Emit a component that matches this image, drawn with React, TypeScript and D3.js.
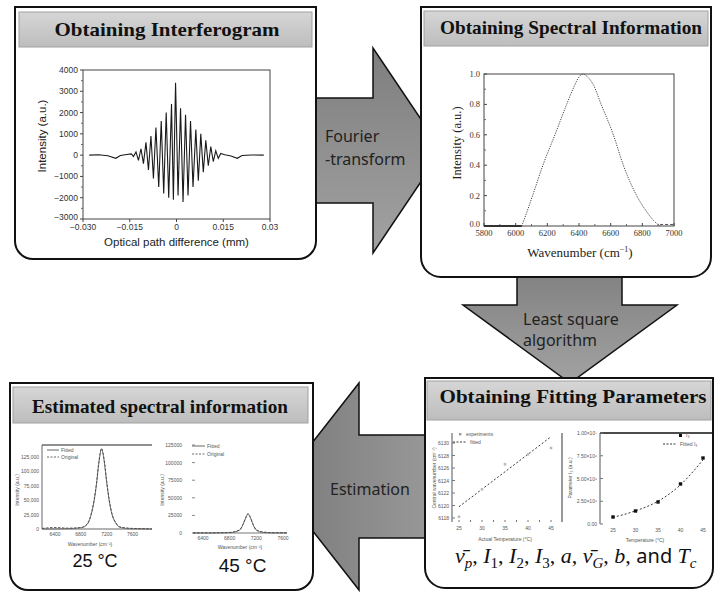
import React from 'react';
import * as d3 from 'd3';

const SANS = "'Liberation Sans', Arial, sans-serif";
const SERIF = "'Liberation Serif', 'Times New Roman', serif";
const UI = "'Noto Sans', 'Open Sans', sans-serif";

// ---------- Interferogram (panel 1) ----------
const interferoX = [-0.028, -0.025, -0.022, -0.0195, -0.018, -0.016, -0.0145, -0.0138, -0.013, -0.0122, -0.0114, -0.0106, -0.0098, -0.009, -0.0082, -0.0074, -0.0066, -0.0057, -0.0049, -0.0041, -0.0033, -0.0025, -0.0016, -0.001, -0.0003, 0.0005, 0.0013, 0.0021, 0.0029, 0.0037, 0.0045, 0.0053, 0.0062, 0.007, 0.0078, 0.0086, 0.0094, 0.0102, 0.011, 0.0118, 0.0126, 0.0134, 0.0142, 0.0155, 0.0175, 0.0195, 0.021, 0.024, 0.028];
const interferoY = [0, 20, -30, -150, -20, 30, 60, -60, 150, -250, 300, -400, 600, -700, 900, -1100, 1300, -1500, 1600, -1800, 2000, -2000, 2400, -2100, 3400, -1900, 2200, -2200, 1900, -1900, 1600, -1500, 1200, -1200, 1000, -800, 700, -500, 400, -300, 200, -150, 80, 20, -40, -150, -20, 10, 0];
const interferoTicksX = [-0.03, -0.015, 0, 0.015, 0.03];
const interferoTickLabelsX = ['\u22120.030', '\u22120.015', '0', '0.015', '0.03'];
const interferoTicksY = [4000, 3000, 2000, 1000, 0, -1000, -2000, -3000];

// ---------- Spectrum (panel 2) ----------
const specX = [6038, 6070, 6107, 6172, 6248, 6322, 6370, 6400, 6425, 6450, 6490, 6540, 6617, 6680, 6764, 6830, 6872, 6912];
const specY = [0, 0.09, 0.2, 0.4, 0.6, 0.8, 0.92, 0.98, 1.0, 0.985, 0.93, 0.8, 0.6, 0.4, 0.2, 0.09, 0.035, 0];
const specBaseX = [5800, 6038];
const specTailX = [6912, 7000];
const specTicksX = [5800, 6000, 6200, 6400, 6600, 6800, 7000];
const specTicksY = [0, 0.2, 0.4, 0.6, 0.8, 1.0];

// ---------- Estimated spectra (panel 3) ----------
const est25X = [6200, 6400, 6600, 6800, 6900, 6960, 7000, 7040, 7080, 7120, 7160, 7200, 7240, 7280, 7340, 7400, 7500, 7600, 7800, 7900];
const est25Fit = [0, 0, 500, 2000, 8000, 25000, 45000, 75000, 115000, 138000, 118000, 80000, 48000, 26000, 10000, 3000, 800, 200, 0, 0];
const est25Orig = [1000, 2500, 1500, 2500, 9000, 26000, 47000, 77000, 117000, 139000, 120000, 82000, 50000, 27000, 11000, 4000, 2000, 1000, 500, 0];
const est25TicksY = [0, 25000, 50000, 75000, 100000, 125000];
const est25TickLabelsY = ['0', '25,000', '50,000', '75,000', '100,000', '125,000'];
const est45X = [6250, 6500, 6800, 6950, 7000, 7040, 7075, 7110, 7150, 7200, 7300, 7450, 7660];
const est45Fit = [0, 0, 500, 4000, 12000, 21000, 27000, 22000, 12000, 4000, 800, 0, 0];
const est45Orig = [300, 200, 800, 4500, 12500, 21500, 27500, 22500, 12500, 4500, 1500, 500, 300];
const est45TicksY = [0, 25000, 50000, 75000, 100000, 125000];
const estTicksX = [6400, 6800, 7200, 7600];

// ---------- Fitting parameters (panel 4) ----------
const tempX = [25, 30, 35, 40, 45];
const peakWn = [6118.2, 6122.6, 6126.6, 6128.2, 6129.2];
const peakFitX = [25, 45];
const peakFitY = [6119.8, 6131];
const peakTicksY = [6118, 6120, 6122, 6124, 6126, 6128, 6130];
const i3Values = [7.7e5, 1.43e6, 2.42e6, 4.4e6, 7.25e6];
const i3FitX = [25, 27.5, 30, 32.5, 35, 37.5, 40, 42.5, 45];
const i3FitY = [0.75e6, 1.05e6, 1.45e6, 1.9e6, 2.5e6, 3.3e6, 4.3e6, 5.6e6, 7.05e6];
const i3TicksY = [0, 2.5e6, 5e6, 7.5e6, 1e7];
const i3TickLabelsY = ['0.00', '2.50\u00d710\u2076', '5.00\u00d710\u2076', '7.50\u00d710\u2076', '1.00\u00d710\u2077'];

function panelPath(x0: number, y0: number, x1: number, y1: number, r: number) {
  return `M${x0},${y0}H${x1}V${y1 - r}A${r},${r} 0 0 1 ${x1 - r},${y1}H${x0 + r}A${r},${r} 0 0 1 ${x0},${y1 - r}Z`;
}

function Panel({ x0, y0, x1, y1, r, bar, title, tx, ty, tl }: any) {
  return (
    <g>
      <path d={panelPath(x0, y0, x1, y1, r)} fill="#fff" stroke="#111" strokeWidth={2} />
      <rect x={bar[0]} y={bar[1]} width={bar[2] - bar[0]} height={bar[3] - bar[1]} fill="url(#barGrad)" stroke="#a0a0a0" strokeWidth={1} />
      <text x={tx} y={ty} textAnchor="middle" fontFamily={SERIF} fontWeight="bold" fontSize={19} fill="#111" textLength={tl} lengthAdjust="spacingAndGlyphs">{title}</text>
    </g>
  );
}

function Interferogram() {
  const x = d3.scaleLinear().domain([-0.03, 0.03]).range([83, 270]);
  const y = d3.scaleLinear().domain([-3000, 4000]).range([219, 70]);
  const line = d3.line<number>().x((_, i) => x(interferoX[i])).y((d) => y(d));
  const minor = d3.range(-3000, 4000, 500).filter((v) => v % 1000 !== 0);
  return (
    <g>
      <rect x={83} y={70} width={187} height={149} fill="none" stroke="#444" strokeWidth={1} />
      {interferoTicksY.map((t) => (
        <g key={t}>
          <line x1={83} x2={80} y1={y(t)} y2={y(t)} stroke="#444" />
          <text x={78} y={y(t) + (t === -3000 ? 1 : 3)} textAnchor="end" fontFamily={SANS} fontSize={8.5} fill="#333">{t < 0 ? '\u2212' + Math.abs(t) : t}</text>
        </g>
      ))}
      {minor.map((t) => <line key={t} x1={83} x2={81} y1={y(t)} y2={y(t)} stroke="#666" />)}
      {interferoTicksX.map((t, i) => (
        <g key={t}>
          <line x1={x(t)} x2={x(t)} y1={219} y2={222} stroke="#444" />
          <text x={x(t)} y={230} textAnchor="middle" fontFamily={SANS} fontSize={8.5} fill="#333">{interferoTickLabelsX[i]}</text>
        </g>
      ))}
      <path d={line(interferoY) || ''} fill="none" stroke="#1a1a1a" strokeWidth={1.1} />
      <text transform="translate(46,136) rotate(-90)" textAnchor="middle" fontFamily={SANS} fontSize={11.5} fill="#222">Intensity (a.u.)</text>
      <text x={176.5} y={246} textAnchor="middle" fontFamily={SANS} fontSize={11.5} fill="#222">Optical path difference (mm)</text>
    </g>
  );
}

function Spectrum() {
  const x = d3.scaleLinear().domain([5800, 7000]).range([484, 674]);
  const y = d3.scaleLinear().domain([0, 1]).range([226, 74]);
  const line = d3.line<number>().x((_, i) => x(specX[i])).y((d) => y(d)).curve(d3.curveMonotoneX);
  const minorY = d3.range(0.1, 1, 0.2);
  const minorX = d3.range(5900, 7000, 200);
  return (
    <g>
      <rect x={484} y={74} width={190} height={152} fill="none" stroke="#444" strokeWidth={1} />
      {specTicksY.map((t) => (
        <g key={t}>
          <line x1={484} x2={487} y1={y(t)} y2={y(t)} stroke="#444" />
          <text x={480} y={y(t) + (t === 0 ? 1 : 3)} textAnchor="end" fontFamily={SERIF} fontSize={8.5} fill="#333">{t.toFixed(1)}</text>
        </g>
      ))}
      {minorY.map((t) => <line key={t} x1={484} x2={486} y1={y(t)} y2={y(t)} stroke="#666" />)}
      {specTicksX.map((t) => (
        <g key={t}>
          <line x1={x(t)} x2={x(t)} y1={226} y2={223} stroke="#444" />
          <text x={x(t)} y={236} textAnchor="middle" fontFamily={SERIF} fontSize={8.5} fill="#333">{t}</text>
        </g>
      ))}
      {minorX.map((t) => <line key={t} x1={x(t)} x2={x(t)} y1={226} y2={224} stroke="#666" />)}
      <line x1={x(specBaseX[0])} x2={x(specBaseX[1])} y1={y(0)} y2={y(0)} stroke="#333" strokeWidth={1.8} />
      <line x1={x(specTailX[0])} x2={x(specTailX[1])} y1={y(0.01)} y2={y(0.01)} stroke="#555" strokeWidth={1} strokeDasharray="3 2" />
      <path d={line(specY) || ''} fill="none" stroke="#444" strokeWidth={1} strokeDasharray="1.2 1.2" />
      <text transform="translate(461,143) rotate(-90)" textAnchor="middle" fontFamily={SERIF} fontSize={12.5} fill="#222">Intensity (a.u.)</text>
      <text x={580} y={257} textAnchor="middle" fontFamily={SERIF} fontSize={13} fill="#222">Wavenumber (cm<tspan dy={-5} fontSize={8}>−1</tspan><tspan dy={5}>)</tspan></text>
    </g>
  );
}

function Est25() {
  const x = d3.scaleLinear().domain([6200, 7900]).range([42, 152]);
  const y = d3.scaleLinear().domain([0, 145000]).range([529, 445]);
  const lf = d3.line<number>().x((_, i) => x(est25X[i])).y((d) => y(d)).curve(d3.curveMonotoneX);
  return (
    <g fontFamily={SANS} fill="#555">
      <line x1={42} x2={42} y1={445} y2={529} stroke="#666" />
      <line x1={42} x2={152} y1={529} y2={529} stroke="#666" />
      <line x1={42} x2={152} y1={445} y2={445} stroke="#222" strokeWidth={1.2} />
      {est25TicksY.map((t, i) => (
        <text key={t} x={39} y={y(t) + 2} textAnchor="end" fontSize={5}>{est25TickLabelsY[i]}</text>
      ))}
      {estTicksX.map((t) => (
        <text key={t} x={x(t)} y={536} textAnchor="middle" fontSize={5}>{t}</text>
      ))}
      <path d={lf(est25Fit) || ''} fill="none" stroke="#777" strokeWidth={1} />
      <path d={lf(est25Orig) || ''} fill="none" stroke="#444" strokeWidth={0.9} strokeDasharray="2.5 1.5" />
      <line x1={47} x2={59} y1={450} y2={450} stroke="#666" />
      <text x={61} y={452} fontSize={5}>Fitted</text>
      <line x1={47} x2={59} y1={457} y2={457} stroke="#666" strokeDasharray="2 1.5" />
      <text x={61} y={459} fontSize={5}>Original</text>
      <text transform="translate(19,490) rotate(-90)" textAnchor="middle" fontSize={5}>Intensity (a.u.)</text>
      <text x={90} y={546} textAnchor="middle" fontSize={5}>Wavenumber (cm⁻¹)</text>
      <text x={95} y={567} textAnchor="middle" fontSize={18} fill="#111">25 °C</text>
    </g>
  );
}

function Est45() {
  const x = d3.scaleLinear().domain([6250, 7660]).range([193, 287]);
  const y = d3.scaleLinear().domain([0, 125000]).range([533, 445]);
  const lf = d3.line<number>().x((_, i) => x(est45X[i])).y((d) => y(d)).curve(d3.curveMonotoneX);
  return (
    <g fontFamily={SANS} fill="#555">
      <line x1={193} x2={287} y1={533} y2={533} stroke="#777" />
      {est45TicksY.map((t) => (
        <g key={t}>
          <line x1={192} x2={195} y1={y(t)} y2={y(t)} stroke="#888" />
          <text x={182} y={y(t) + 2} textAnchor="end" fontSize={5}>{t}</text>
        </g>
      ))}
      {estTicksX.map((t) => (
        <text key={t} x={x(t)} y={540} textAnchor="middle" fontSize={5}>{t}</text>
      ))}
      <path d={lf(est45Fit) || ''} fill="none" stroke="#777" strokeWidth={1} />
      <path d={lf(est45Orig) || ''} fill="none" stroke="#444" strokeWidth={0.9} strokeDasharray="2.5 1.5" />
      <line x1={192} x2={205} y1={446} y2={446} stroke="#666" />
      <text x={207} y={448} fontSize={5}>Fitted</text>
      <line x1={192} x2={205} y1={454} y2={454} stroke="#666" strokeDasharray="2 1.5" />
      <text x={207} y={456} fontSize={5}>Original</text>
      <text transform="translate(164,490) rotate(-90)" textAnchor="middle" fontSize={5}>Intensity (a.u.)</text>
      <text x={240} y={549} textAnchor="middle" fontSize={5}>Wavenumber (cm⁻¹)</text>
      <text x={242.5} y={572} textAnchor="middle" fontSize={19} fill="#111">45 °C</text>
    </g>
  );
}

function PeakChart() {
  const x = d3.scaleLinear().domain([25, 45]).range([459, 551]);
  const y = d3.scaleLinear().domain([6118, 6130]).range([518, 443]);
  const minorX = d3.range(25, 45.1, 2.5);
  return (
    <g fontFamily={SANS} fill="#555">
      <line x1={452} x2={452} y1={433} y2={522} stroke="#555" />
      {peakTicksY.map((t) => (
        <g key={t}>
          <line x1={452} x2={455} y1={y(t)} y2={y(t)} stroke="#777" />
          <text x={449} y={y(t) + 2} textAnchor="end" fontSize={5}>{t}</text>
        </g>
      ))}
      {minorX.map((t) => <line key={t} x1={x(t)} x2={x(t)} y1={520} y2={522} stroke="#777" />)}
      {tempX.map((t) => <text key={t} x={x(t)} y={530} textAnchor="middle" fontSize={5}>{t}</text>)}
      <line x1={x(peakFitX[0])} x2={x(peakFitX[1])} y1={y(peakFitY[0])} y2={y(peakFitY[1])} stroke="#222" strokeWidth={0.9} strokeDasharray="2 2" />
      {tempX.map((t, i) => <rect key={t} x={x(t) - 1.3} y={y(peakWn[i]) - 1.3} width={2.6} height={2.6} fill="#bbb" />)}
      <rect x={459} y={433} width={2.4} height={2.4} fill="#999" />
      <text x={466} y={436} fontSize={5}>experiments</text>
      <line x1={453} x2={467} y1={442} y2={442} stroke="#222" strokeWidth={0.9} strokeDasharray="2 1.5" />
      <text x={470} y={444} fontSize={5}>fitted</text>
      <text transform="translate(436,478) rotate(-90)" textAnchor="middle" fontSize={5}>Central wavenumber (cm⁻¹)</text>
      <text x={505} y={541} textAnchor="middle" fontSize={5}>Actual Temperature (°C)</text>
      <line x1={562} x2={562} y1={433} y2={522} stroke="#777" strokeWidth={1.5} />
    </g>
  );
}

function I3Chart() {
  const x = d3.scaleLinear().domain([25, 45]).range([613, 703]);
  const y = d3.scaleLinear().domain([0, 1e7]).range([524, 433]);
  const lf = d3.line<number>().x((_, i) => x(i3FitX[i])).y((d) => y(d)).curve(d3.curveMonotoneX);
  return (
    <g fontFamily={SANS} fill="#555">
      <line x1={600} x2={600} y1={433} y2={524} stroke="#555" />
      <line x1={600} x2={712} y1={433} y2={433} stroke="#111" strokeWidth={1.5} />
      {i3TicksY.map((t, i) => (
        <g key={t}>
          <line x1={600} x2={603} y1={y(t)} y2={y(t)} stroke="#777" />
          <text x={597} y={y(t) + 2} textAnchor="end" fontSize={5}>{i3TickLabelsY[i]}</text>
        </g>
      ))}
      {tempX.map((t) => <text key={t} x={x(t)} y={532} textAnchor="middle" fontSize={5}>{t}</text>)}
      <path d={lf(i3FitY) || ''} fill="none" stroke="#222" strokeWidth={0.9} strokeDasharray="2 2" />
      {tempX.map((t, i) => <rect key={t} x={x(t) - 1.7} y={y(i3Values[i]) - 1.7} width={3.4} height={3.4} fill="#111" />)}
      <rect x={679} y={434} width={3} height={3} fill="#111" />
      <text x={686} y={437} fontSize={5}>I₃</text>
      <line x1={663} x2={677} y1={444} y2={444} stroke="#222" strokeWidth={0.9} strokeDasharray="2 1.5" />
      <text x={680} y={446} fontSize={5}>Fitted I₃</text>
      <text transform="translate(572,478) rotate(-90)" textAnchor="middle" fontSize={5}>Parameter I₃ (a.u.)</text>
      <text x={645} y={542} textAnchor="middle" fontSize={5}>Temperature (°C)</text>
    </g>
  );
}

export default function App() {
  const arrowR = [[300, 98], [373, 98], [373, 48], [442, 150.5], [373, 253], [373, 203], [300, 203]];
  const arrowD = [[517, 260], [622, 260], [622, 305], [677, 305], [570, 383], [463, 305], [517, 305]];
  const arrowL = [[440, 435], [359, 435], [359, 383], [278, 486.5], [359, 590], [359, 538], [440, 538]];
  const pts = (a: number[][]) => a.map((p) => p.join(',')).join(' ');
  return (
    <svg width={716} height={594} style={{ position: 'absolute', left: 0, top: 0, background: '#fff' }}>
      <defs>
        <linearGradient id="arrowGrad" x1="0" y1="0" x2="0" y2="1">
          <stop offset="0" stopColor="#7e7e7e" />
          <stop offset="1" stopColor="#a2a2a2" />
        </linearGradient>
        <linearGradient id="arrowGradH" x1="0" y1="0" x2="1" y2="0">
          <stop offset="0" stopColor="#7a7a7a" />
          <stop offset="1" stopColor="#9a9a9a" />
        </linearGradient>
        <linearGradient id="barGrad" x1="0" y1="0" x2="0" y2="1">
          <stop offset="0" stopColor="#d6d6d6" />
          <stop offset="1" stopColor="#bdbdbd" />
        </linearGradient>
      </defs>
      <rect width={716} height={594} fill="#fff" />
      <polygon points={pts(arrowR)} fill="url(#arrowGrad)" stroke="#111" strokeWidth={1.5} />
      <polygon points={pts(arrowD)} fill="url(#arrowGrad)" stroke="#111" strokeWidth={1.5} />
      <polygon points={pts(arrowL)} fill="url(#arrowGradH)" stroke="#111" strokeWidth={1.5} />
      <text fontFamily={UI} fontSize={16} fill="#222">
        <tspan x={325} y={142}>Fourier</tspan>
        <tspan x={325} y={165}>-transform</tspan>
      </text>
      <text fontFamily={UI} fontSize={16} fill="#222">
        <tspan x={523} y={325}>Least square</tspan>
        <tspan x={523} y={346}>algorithm</tspan>
      </text>
      <text x={330} y={495} fontFamily={UI} fontSize={16} fill="#222">Estimation</text>

      <Panel x0={15} y0={7} x1={316} y1={259} r={18} bar={[19, 12, 312, 47]} title="Obtaining Interferogram" tx={167} ty={36} tl={225} />
      <Panel x0={421} y0={7} x1={711} y1={277} r={20} bar={[424, 11, 708, 46]} title="Obtaining Spectral Information" tx={571} ty={34} tl={262} />
      <Panel x0={10} y0={383} x1={313} y1={590} r={18} bar={[13, 387, 308, 423]} title="Estimated spectral information" tx={160} ty={413} tl={256} />
      <Panel x0={425} y0={378} x1={713} y1={588} r={20} bar={[427, 381, 711, 420]} title="Obtaining Fitting Parameters" tx={573} ty={403} tl={267} />

      <Interferogram />
      <Spectrum />
      <Est25 />
      <Est45 />
      <PeakChart />
      <I3Chart />

      <text x={455} y={563} fontFamily={SERIF} fontSize={22} fill="#111">
        <tspan fontStyle="italic">ν̄</tspan><tspan fontStyle="italic" fontSize={15} dy={5}>p</tspan>
        <tspan dy={-5}>, </tspan><tspan fontStyle="italic">I</tspan><tspan fontSize={15} dy={5}>1</tspan>
        <tspan dy={-5}>, </tspan><tspan fontStyle="italic">I</tspan><tspan fontSize={15} dy={5}>2</tspan>
        <tspan dy={-5}>, </tspan><tspan fontStyle="italic">I</tspan><tspan fontSize={15} dy={5}>3</tspan>
        <tspan dy={-5}>, </tspan><tspan fontStyle="italic">a</tspan>
        <tspan>, </tspan><tspan fontStyle="italic">ν̄</tspan><tspan fontStyle="italic" fontSize={15} dy={5}>G</tspan>
        <tspan dy={-5}>, </tspan><tspan fontStyle="italic">b</tspan>
        <tspan>, </tspan><tspan fontFamily={UI} fontSize={20}>and </tspan><tspan fontStyle="italic">T</tspan><tspan fontStyle="italic" fontSize={15} dy={5}>c</tspan>
      </text>
    </svg>
  );
}
